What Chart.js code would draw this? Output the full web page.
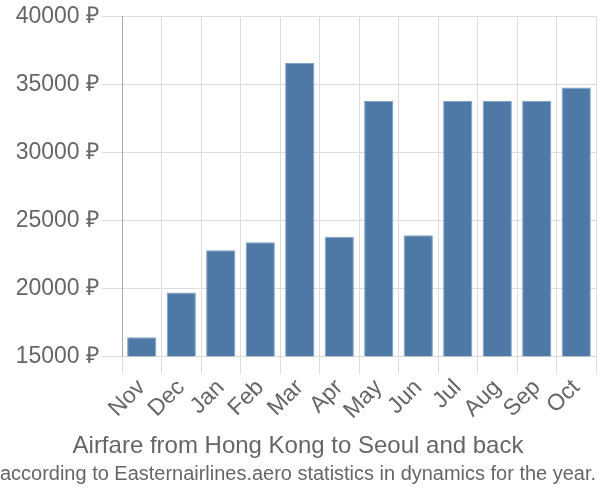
<!DOCTYPE html>
<html>
<head>
<meta charset="utf-8">
<script src="https://cdn.jsdelivr.net/npm/chart.js@4/dist/chart.umd.min.js"></script>
<style>
html,body{margin:0;padding:0;background:#fff;}
#wrap{width:600px;height:500px;}
</style>
</head>
<body>
<div id="wrap"><canvas id="c" width="600" height="500"></canvas></div>
<script>
const categories = ["Nov","Dec","Jan","Feb","Mar","Apr","May","Jun","Jul","Aug","Sep","Oct"];
const prices = [16400, 19700, 22800, 23400, 36600, 23800, 33800, 23900, 33800, 33800, 33800, 34800];
const yTicks = [15000, 20000, 25000, 30000, 35000, 40000];
const titleText = "Airfare from Hong Kong to Seoul and back";
const subtitleText = "according to Easternairlines.aero statistics in dynamics for the year.";

const font = "'Liberation Sans', Arial, sans-serif";
new Chart(document.getElementById('c'), {
  type: 'bar',
  data: {
    labels: categories,
    datasets: [{
      data: prices,
      backgroundColor: '#4e79a7',
      borderColor: '#7fa3c7',
      borderWidth: 1,
      categoryPercentage: 0.74,
      barPercentage: 1.0
    }]
  },
  options: {
    responsive: false,
    animation: false,
    devicePixelRatio: 1,
    layout: { padding: { left: 0, right: 4, top: 12, bottom: 0 } },
    plugins: {
      legend: { display: false },
      tooltip: { enabled: false },
      title: {
        display: true, text: titleText, position: 'bottom', weight: 1000,
        color: '#666', font: { family: font, size: 24, weight: 'normal', lineHeight: 1.2 },
        padding: { top: 3, bottom: 1 }
      },
      subtitle: {
        display: true, text: subtitleText, position: 'bottom', weight: 2000,
        color: '#666', font: { family: font, size: 20, weight: 'normal', lineHeight: 1.2 },
        padding: { top: 0, bottom: 14 }
      }
    },
    scales: {
      x: {
        afterFit: (s) => { s.height = 73; },
        grid: { color: '#dddddd', tickLength: 18, offset: true },
        border: { color: '#dddddd' },
        ticks: { color: '#666', font: { family: font, size: 23 }, minRotation: 45, maxRotation: 45, padding: 0, autoSkip: false }
      },
      y: {
        min: 15000, max: 40000,
        afterFit: (s) => { s.width = 122; },
        afterBuildTicks: (axis) => { axis.ticks = yTicks.map(v => ({ value: v })); },
        grid: { color: '#dddddd', tickLength: 20 },
        border: { color: '#aaaaaa' },
        ticks: { color: '#666', font: { family: font, size: 23 }, padding: 3,
          callback: (v) => v + ' ₽' }
      }
    }
  }
});
</script>
</body>
</html>
